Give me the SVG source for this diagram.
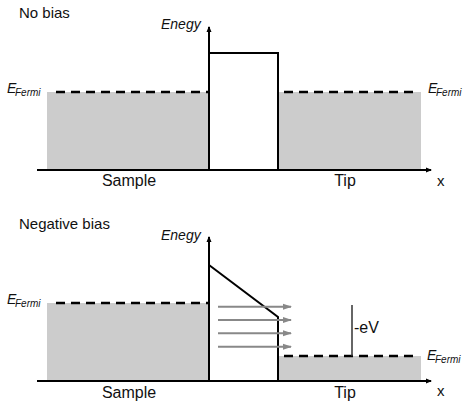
<svg xmlns="http://www.w3.org/2000/svg" width="463" height="404" viewBox="0 0 463 404">
<defs>
<marker id="ax" markerWidth="6" markerHeight="6" refX="5" refY="3" orient="auto" markerUnits="userSpaceOnUse">
<path d="M0,0.5 L6,3 L0,5.5 Z" fill="#000"/>
</marker>
<marker id="ga" markerWidth="9" markerHeight="7" refX="8" refY="3.5" orient="auto" markerUnits="userSpaceOnUse">
<path d="M0,0.5 L9,3.5 L0,6.5 Z" fill="#888"/>
</marker>
<style>
text{font-family:"Liberation Sans",Arial,sans-serif;fill:#111}
.t{font-size:15px}
.it{font-style:italic}
.fill{fill:#cccccc;stroke:none}
.axis{stroke:#000;stroke-width:2;fill:none}
.dash{stroke:#000;stroke-width:2.5;stroke-dasharray:9,6;fill:none}
.bar{stroke:#000;stroke-width:2;fill:none}
.arr{stroke:#888;stroke-width:2;fill:none}
</style>
</defs>
<rect width="463" height="404" fill="#fff"/>

<g id="top-panel">
<g id="top-sample"><rect class="fill" x="47" y="92" width="162" height="78"/></g>
<g id="top-tip"><rect class="fill" x="278" y="92" width="143" height="78"/></g>
<g id="top-barrier"><path class="bar" d="M209,53 H278 V170"/></g>
<text class="t" x="19" y="18">No bias</text>
<text class="it" font-size="14" x="161" y="29">Enegy</text>
<text font-size="16" x="129" y="186" text-anchor="middle">Sample</text>
<text font-size="16" x="345" y="186" text-anchor="middle">Tip</text>
<text font-size="15" x="437" y="186">x</text>
<g id="top-efermi-left"><text class="it" font-size="14" x="7" y="93">E</text><text class="it" font-size="10" x="15" y="96">Fermi</text></g>
<g id="top-efermi-right"><text class="it" font-size="14" x="428" y="93">E</text><text class="it" font-size="10" x="436" y="96">Fermi</text></g>
</g>

<g id="bottom-panel">
<g id="bot-sample"><rect class="fill" x="47" y="303" width="162" height="78"/></g>
<g id="bot-tip"><rect class="fill" x="278" y="356" width="143" height="25"/></g>
<g id="bot-barrier"><path class="bar" d="M209,265 L278,317 V381"/></g>
<text class="t" x="19" y="229">Negative bias</text>
<text class="it" font-size="14" x="161" y="240">Enegy</text>
<text font-size="16" x="129" y="398" text-anchor="middle">Sample</text>
<text font-size="16" x="345" y="398" text-anchor="middle">Tip</text>
<text font-size="15" x="437" y="396">x</text>
<text font-size="16" x="354" y="333">-eV</text>
<g id="bot-efermi-left"><text class="it" font-size="14" x="7" y="304">E</text><text class="it" font-size="10" x="15" y="307">Fermi</text></g>
<g id="bot-efermi-right"><text class="it" font-size="14" x="427" y="360">E</text><text class="it" font-size="10" x="435" y="363">Fermi</text></g>
</g>

<g id="connectors">
<path class="dash" d="M56,92 H209"/>
<path class="dash" d="M284,92 H414"/>
<path class="axis" d="M37,170 H431" marker-end="url(#ax)"/>
<path class="axis" d="M209,171 V27" marker-end="url(#ax)"/>

<path class="dash" d="M56,303 H209"/>
<path class="dash" d="M284,356 H414"/>
<path class="axis" d="M37,381 H431" marker-end="url(#ax)"/>
<path class="axis" d="M209,382 V237" marker-end="url(#ax)"/>

<path class="arr" d="M218,306.7 H291" marker-end="url(#ga)"/>
<path class="arr" d="M218,320 H291" marker-end="url(#ga)"/>
<path class="arr" d="M218,333.3 H291" marker-end="url(#ga)"/>
<path class="arr" d="M218,346.7 H291" marker-end="url(#ga)"/>
<path d="M352,305 V356" stroke="#333" stroke-width="1.5" fill="none"/>
</g>
</svg>
